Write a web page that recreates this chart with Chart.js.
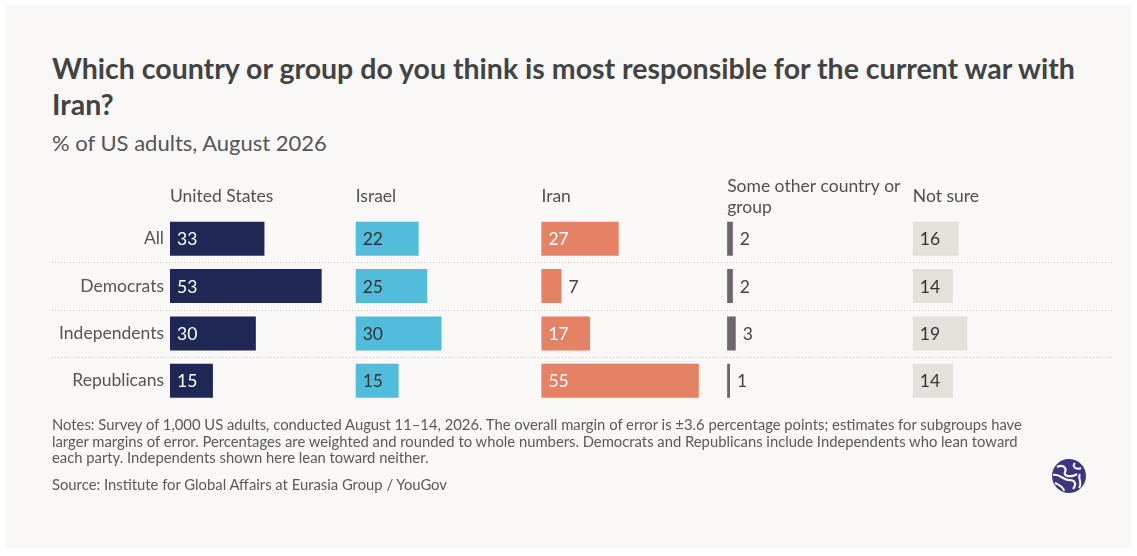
<!DOCTYPE html>
<html lang="en">
<head>
    <meta charset="UTF-8">
    <title>Most responsible for the current war with Iran</title>
    <script src="https://cdn.jsdelivr.net/npm/chart.js@4.4.1/dist/chart.umd.min.js"></script>
    <style>
        body {
            margin: 0;
            background: #ffffff;
            font-family: Lato, "Open Sans", sans-serif;
        }
        .card {
            position: absolute;
            left: 6px;
            top: 5px;
            width: 1125px;
            height: 543px;
            background: #f9f8f7;
        }
        .title {
            position: absolute;
            left: 46px;
            top: 45px;
            font-size: 28.5px;
            font-weight: 700;
            line-height: 36px;
            color: #434343;
            white-space: nowrap;
        }
        .subtitle {
            position: absolute;
            left: 46px;
            top: 125px;
            font-size: 22px;
            line-height: 26px;
            color: #555555;
        }
        .chart-box {
            position: absolute;
            left: 34px;
            top: 165px;
            width: 1080px;
            height: 251px;
        }
        .notes {
            position: absolute;
            left: 46px;
            top: 411px;
            font-size: 14.8px;
            line-height: 16.7px;
            color: #595959;
            white-space: nowrap;
        }
        .notes p { margin: 0 0 10px 0; }
        .logo {
            position: absolute;
            left: 1045px;
            top: 453px;
        }
    </style>
</head>
<body>
<div class="card">
    <div class="title">Which country or group do you think is most responsible for the current war with<br>Iran?</div>
    <div class="subtitle">% of US adults, August 2026</div>
    <div class="chart-box"><canvas id="chart"></canvas></div>
    <div class="notes">
        <p>Notes: Survey of 1,000 US adults, conducted August 11–14, 2026. The overall margin of error is ±3.6 percentage points; estimates for subgroups have<br>larger margins of error. Percentages are weighted and rounded to whole numbers. Democrats and Republicans include Independents who lean toward<br>each party. Independents shown here lean toward neither.</p>
        <p>Source: Institute for Global Affairs at Eurasia Group / YouGov</p>
    </div>
    <svg class="logo" width="36" height="36" viewBox="0 0 36 36">
        <circle cx="18" cy="18" r="17" fill="#3e3580"/>
        <path d="M6 9 C12 6, 16 10, 14 14 C12 18, 20 20, 26 16" stroke="#f9f8f7" stroke-width="2.2" fill="none"/>
        <path d="M2 17 C8 15, 12 22, 18 22 C24 22, 26 26, 22 31" stroke="#f9f8f7" stroke-width="2.2" fill="none"/>
        <path d="M24 5 C20 9, 26 12, 30 10" stroke="#f9f8f7" stroke-width="2" fill="none"/>
        <path d="M29 16 C26 20, 32 24, 28 30" stroke="#f9f8f7" stroke-width="2" fill="none"/>
        <path d="M4 25 C8 27, 12 28, 13 33" stroke="#f9f8f7" stroke-width="2" fill="none"/>
    </svg>
</div>

<script>
    // Gruppen (Zeilen) und Antworten (Spalten)
    const groups = ['All', 'Democrats', 'Independents', 'Republicans'];
    const answers = ['United States', 'Israel', 'Iran', 'Some other country or group', 'Not sure'];
    const headerLines = [['United States'], ['Israel'], ['Iran'], ['Some other country or', 'group'], ['Not sure']];

    const usVals = [33, 53, 30, 15];
    const israelVals = [22, 25, 30, 15];
    const iranVals = [27, 7, 17, 55];
    const otherVals = [2, 2, 3, 1];
    const notSureVals = [16, 14, 19, 14];

    const series = [usVals, israelVals, iranVals, otherVals, notSureVals];
    const colors = ['#1f2754', '#52bcdb', '#e58164', '#6e666e', '#e4e1db'];
    const insideText = ['#ffffff', '#333333', '#ffffff', '#333333', '#333333'];

    const colStep = 64.9;   // Abstand der Spalten in Skaleneinheiten
    const offsets = answers.map((a, i) => i * colStep);
    const font = '17.5px Lato, "Open Sans", sans-serif';

    const overlay = {
        id: 'overlay',
        afterDatasetsDraw(chart) {
            const c = chart.ctx;
            const x = chart.scales.x;
            const y = chart.scales.y;
            c.save();

            // gepunktete Trennlinien
            c.strokeStyle = '#cfcbc6';
            c.lineWidth = 1;
            c.setLineDash([1, 2]);
            for (let i = 0; i < groups.length - 1; i++) {
                const yy = Math.round((y.getPixelForValue(i) + y.getPixelForValue(i + 1)) / 2) + 0.5;
                c.beginPath();
                c.moveTo(12, yy);
                c.lineTo(1073, yy);
                c.stroke();
            }
            c.setLineDash([]);

            // Spaltenköpfe
            c.font = font;
            c.fillStyle = '#505050';
            c.textBaseline = 'middle';
            c.textAlign = 'left';
            headerLines.forEach((lines, i) => {
                const hx = x.getPixelForValue(offsets[i]);
                if (lines.length === 1) {
                    c.fillText(lines[0], hx, 26.5);
                } else {
                    c.fillText(lines[0], hx, 16.5);
                    c.fillText(lines[1], hx, 37.5);
                }
            });

            // Werte
            chart.data.datasets.forEach((ds, di) => {
                const meta = chart.getDatasetMeta(di);
                meta.data.forEach((bar, j) => {
                    const v = series[di][j];
                    const start = x.getPixelForValue(offsets[di]);
                    const end = x.getPixelForValue(offsets[di] + v);
                    if (v >= 10) {
                        c.fillStyle = insideText[di];
                        c.fillText(String(v), start + 7, bar.y + 1);
                    } else {
                        c.fillStyle = '#444444';
                        c.fillText(String(v), end + 7, bar.y + 1);
                    }
                });
            });
            c.restore();
        }
    };

    new Chart(document.getElementById('chart'), {
        type: 'bar',
        data: {
            labels: groups,
            datasets: series.map((vals, i) => ({
                label: answers[i],
                data: vals.map(v => [offsets[i], offsets[i] + v]),
                backgroundColor: colors[i],
                borderWidth: 0,
                grouped: false,
                barPercentage: 0.72,
                categoryPercentage: 1
            }))
        },
        options: {
            indexAxis: 'y',
            responsive: true,
            maintainAspectRatio: false,
            animation: false,
            layout: { padding: { top: 45, bottom: 0, left: 0, right: 20 } },
            plugins: {
                legend: { display: false },
                tooltip: { enabled: false }
            },
            scales: {
                x: { display: false, min: 0, max: 325 },
                y: {
                    grid: { display: false, drawTicks: false },
                    border: { display: false },
                    ticks: { color: '#555555', font: { family: 'Lato', size: 17.5 }, padding: 6 },
                    afterFit(scale) { scale.width = 130; }
                }
            }
        },
        plugins: [overlay]
    });
</script>
</body>
</html>
